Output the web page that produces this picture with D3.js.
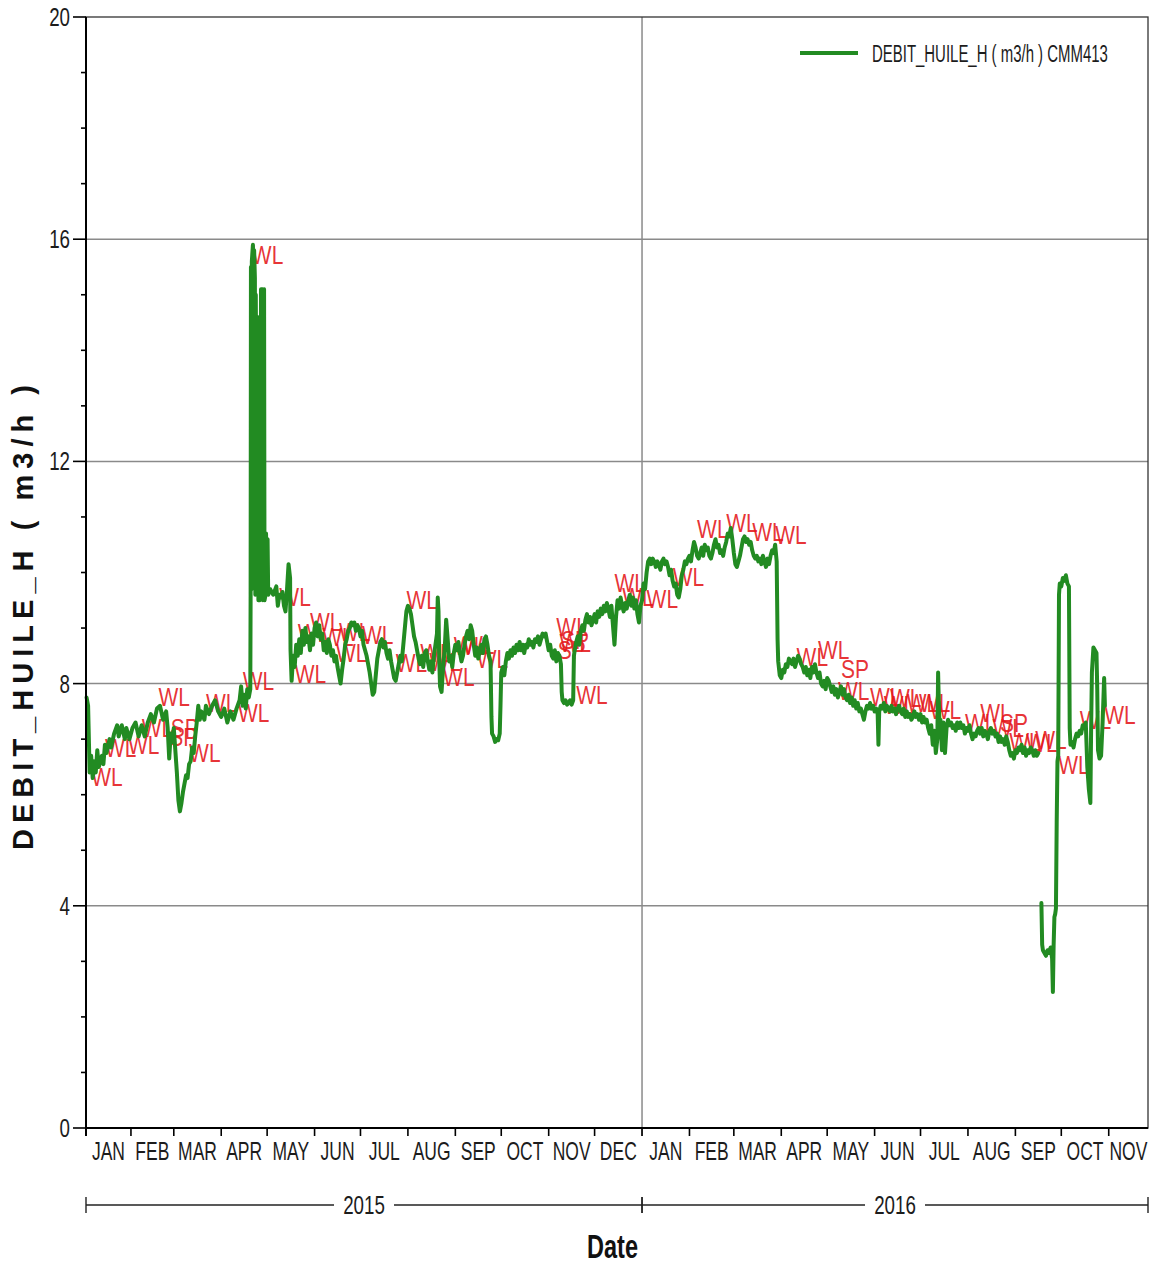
<!DOCTYPE html>
<html><head><meta charset="utf-8">
<script src="https://cdn.jsdelivr.net/npm/d3@7"></script>
<style>
html,body{margin:0;padding:0;background:#fff;}
svg{display:block;}
</style></head><body>
<svg id="chart" width="1152" height="1265"></svg>
<script>
// ---- data ----
const seriesName = "DEBIT_HUILE_H ( m3/h ) CMM413";
const yTitle = "DEBIT_HUILE_H ( m3/h )";
const xTitle = "Date";
const monthNames = ["JAN","FEB","MAR","APR","MAY","JUN","JUL","AUG","SEP","OCT","NOV","DEC"];
const yearLabels = ["2015","2016"];
const yTicks = [0,4,8,12,16,20];
const dateRange = ["2015-01-02T15","2016-11-26T16"];

// daily oil flow (m3/h); null marks missing readings
const flow = [
["2015-01-03",7.75],["2015-01-04",7.6],["2015-01-05",6.4],["2015-01-06",6.7],["2015-01-07",6.3],["2015-01-08",6.6],
["2015-01-09",6.4],["2015-01-10",6.8],["2015-01-11",6.5],["2015-01-13",6.7],["2015-01-14",6.55],["2015-01-15",6.9],
["2015-01-16",6.75],["2015-01-18",7.0],["2015-01-19",6.85],["2015-01-21",7.1],["2015-01-23",7.25],["2015-01-24",7.05],
["2015-01-26",7.25],["2015-01-28",7.0],["2015-01-29",7.2],["2015-01-31",7.0],["2015-02-02",7.2],["2015-02-04",7.3],
["2015-02-06",7.05],["2015-02-08",7.25],["2015-02-10",7.05],["2015-02-12",7.3],["2015-02-14",7.45],["2015-02-16",7.3],
["2015-02-18",7.55],["2015-02-20",7.6],["2015-02-22",7.35],["2015-02-24",7.5],["2015-02-25",7.2],["2015-02-26",6.65],
["2015-02-27",7.1],["2015-02-28",6.95],["2015-03-01",7.2],["2015-03-02",6.8],["2015-03-03",6.4],["2015-03-04",5.9],
["2015-03-05",5.7],["2015-03-06",5.85],["2015-03-07",6.05],["2015-03-08",6.2],["2015-03-09",6.35],["2015-03-10",6.3],
["2015-03-11",6.55],["2015-03-12",6.6],["2015-03-13",6.85],["2015-03-14",6.75],["2015-03-15",7.05],["2015-03-16",7.3],
["2015-03-17",7.6],["2015-03-18",7.35],["2015-03-19",7.5],["2015-03-21",7.35],["2015-03-22",7.6],["2015-03-24",7.45],
["2015-03-26",7.6],["2015-03-28",7.7],["2015-03-30",7.5],["2015-04-01",7.4],["2015-04-03",7.55],["2015-04-05",7.3],
["2015-04-07",7.5],["2015-04-09",7.35],["2015-04-11",7.55],["2015-04-13",7.7],["2015-04-14",7.95],["2015-04-15",7.6],
["2015-04-16",7.8],["2015-04-17",7.55],["2015-04-18",7.9],["2015-04-19",7.75],
["2015-04-20T00",7.9],["2015-04-20T05",9.6],["2015-04-20T10",15.5],["2015-04-20T19",9.7],["2015-04-21T00",15.6],
["2015-04-21T17",15.9],["2015-04-22T05",15.5],["2015-04-22T12",15.8],["2015-04-23T00",15.3],["2015-04-23T07",9.6],
["2015-04-23T14",15.0],["2015-04-24T00",12.6],["2015-04-24T10",12.4],["2015-04-24T17",14.6],["2015-04-25T00",14.5],
["2015-04-25T07",9.5],["2015-04-26T00",9.5],["2015-04-26T19",9.6],["2015-04-27T00",15.1],["2015-04-28T00",15.1],
["2015-04-28T05",9.5],["2015-04-28T12",15.0],["2015-04-29T00",15.1],["2015-04-29T07",9.5],["2015-04-30T00",9.6],
["2015-04-30T07",10.7],["2015-04-30T19",9.7],["2015-05-01T07",10.6],["2015-05-01T17",9.6],
["2015-05-03",9.7],["2015-05-05",9.6],["2015-05-07",9.75],["2015-05-08",9.4],["2015-05-09",9.6],["2015-05-10",9.55],
["2015-05-11",9.65],["2015-05-12",9.4],["2015-05-13",9.3],["2015-05-14",9.7],["2015-05-15",10.15],["2015-05-16T00",9.9],
["2015-05-16T07",8.6],["2015-05-17",8.05],["2015-05-18",8.5],["2015-05-19",8.3],["2015-05-20",8.7],["2015-05-21",8.5],
["2015-05-22",8.8],["2015-05-23",8.55],["2015-05-24",8.95],["2015-05-25",8.7],["2015-05-26",9.0],["2015-05-27",8.75],
["2015-05-28",8.85],["2015-05-29",8.6],["2015-05-30",8.9],["2015-05-31",8.7],["2015-06-01",9.0],["2015-06-02",9.1],
["2015-06-03",8.85],["2015-06-04",9.05],["2015-06-05",8.8],["2015-06-06",8.9],["2015-06-07",8.6],["2015-06-08",8.75],
["2015-06-09",8.55],["2015-06-10",8.8],["2015-06-11",8.7],["2015-06-12",8.5],["2015-06-13",8.6],["2015-06-14",8.4],
["2015-06-15",8.5],["2015-06-16",8.3],["2015-06-17",8.15],["2015-06-18",8.0],["2015-06-19",8.25],["2015-06-20",8.45],
["2015-06-21",8.7],["2015-06-22",8.8],["2015-06-23",8.95],["2015-06-24",9.0],["2015-06-25",9.1],["2015-06-26",9.05],
["2015-06-27",9.1],["2015-06-28",8.95],["2015-06-29",9.05],["2015-06-30",9.0],["2015-07-01",8.85],["2015-07-02",8.95],
["2015-07-03",8.7],["2015-07-04",8.6],["2015-07-05",8.5],["2015-07-06",8.35],["2015-07-07",8.2],["2015-07-08",8.0],
["2015-07-09",7.8],["2015-07-10",7.85],["2015-07-11",8.15],["2015-07-12",8.45],["2015-07-13",8.6],["2015-07-14",8.75],
["2015-07-15",8.8],["2015-07-16",8.65],["2015-07-17",8.75],["2015-07-18",8.55],["2015-07-19",8.45],["2015-07-20",8.6],
["2015-07-21",8.4],["2015-07-22",8.25],["2015-07-23",8.1],["2015-07-24",8.05],["2015-07-25",8.2],["2015-07-26",8.35],
["2015-07-27",8.5],["2015-07-28",8.4],["2015-07-29",8.7],["2015-07-30",9.0],["2015-07-31",9.3],["2015-08-01",9.4],
["2015-08-02",9.35],["2015-08-03",9.25],["2015-08-04",9.05],["2015-08-05",8.85],["2015-08-06",8.75],["2015-08-07",8.6],
["2015-08-08",8.45],["2015-08-09",8.35],["2015-08-10",8.5],["2015-08-11",8.3],["2015-08-12",8.55],["2015-08-13",8.6],
["2015-08-14",8.4],["2015-08-15",8.25],["2015-08-16",8.4],["2015-08-17",8.2],["2015-08-18",8.5],["2015-08-19",8.7],
["2015-08-20T00",8.9],["2015-08-20T12",9.55],["2015-08-21T00",9.3],["2015-08-21T12",8.4],["2015-08-22",7.95],
["2015-08-23",7.85],["2015-08-24",8.3],["2015-08-25",8.6],["2015-08-26",9.15],["2015-08-27",8.8],["2015-08-28",8.4],
["2015-08-29",8.5],["2015-08-30",8.3],["2015-08-31",8.55],["2015-09-01",8.7],["2015-09-02",8.6],["2015-09-03",8.75],
["2015-09-04",8.55],["2015-09-05",8.4],["2015-09-06",8.5],["2015-09-07",8.7],["2015-09-08",8.85],["2015-09-09",8.95],
["2015-09-10",8.8],["2015-09-11",9.05],["2015-09-12",8.95],["2015-09-13",8.7],["2015-09-14",8.5],["2015-09-15",8.65],
["2015-09-16",8.45],["2015-09-17",8.6],["2015-09-18",8.7],["2015-09-19",8.55],["2015-09-20",8.8],["2015-09-21",8.85],
["2015-09-22",8.7],["2015-09-23",8.5],["2015-09-24T00",8.4],["2015-09-24T14",7.4],["2015-09-25",7.1],["2015-09-26",7.05],
["2015-09-27",6.95],["2015-09-28",7.0],["2015-09-29",6.98],["2015-09-30T00",7.1],["2015-09-30T12",7.6],["2015-10-01",8.2],
["2015-10-02",8.3],["2015-10-03",8.15],["2015-10-04",8.4],["2015-10-05",8.55],["2015-10-06",8.45],["2015-10-07",8.6],
["2015-10-08",8.5],["2015-10-09",8.65],["2015-10-10",8.55],["2015-10-11",8.7],["2015-10-12",8.6],["2015-10-13",8.75],
["2015-10-14",8.6],["2015-10-15",8.7],["2015-10-16",8.55],["2015-10-17",8.7],["2015-10-18",8.65],["2015-10-19",8.8],
["2015-10-20",8.7],["2015-10-21",8.75],["2015-10-22",8.65],["2015-10-23",8.8],["2015-10-24",8.75],["2015-10-25",8.85],
["2015-10-26",8.7],["2015-10-27",8.8],["2015-10-28",8.9],["2015-10-29",8.85],["2015-10-30",8.9],["2015-10-31",8.75],
["2015-11-01",8.6],["2015-11-02",8.7],["2015-11-03",8.5],["2015-11-04",8.45],["2015-11-05",8.6],["2015-11-06",8.4],
["2015-11-07",8.55],["2015-11-08",8.5],["2015-11-09T00",8.35],["2015-11-09T12",7.85],["2015-11-10",7.7],["2015-11-11",7.65],
["2015-11-12",7.7],["2015-11-13",7.62],["2015-11-14",7.65],["2015-11-15",7.7],["2015-11-16",7.62],["2015-11-17T00",7.7],
["2015-11-17T12",8.5],["2015-11-18",8.6],["2015-11-19",8.75],["2015-11-20",8.85],["2015-11-21",8.7],["2015-11-22",8.95],
["2015-11-23",9.05],["2015-11-24",8.95],["2015-11-25",9.15],["2015-11-26",9.25],["2015-11-27",9.1],["2015-11-28",9.2],
["2015-11-29",9.05],["2015-11-30",9.15],["2015-12-01",9.25],["2015-12-02",9.1],["2015-12-03",9.3],["2015-12-04",9.2],
["2015-12-05",9.35],["2015-12-06",9.25],["2015-12-07",9.4],["2015-12-08",9.3],["2015-12-09",9.45],["2015-12-10",9.35],
["2015-12-11",9.2],["2015-12-12",9.4],["2015-12-13",9.05],["2015-12-14",8.7],["2015-12-15",9.2],["2015-12-16",9.5],
["2015-12-17",9.35],["2015-12-18",9.55],["2015-12-19",9.4],["2015-12-20",9.3],["2015-12-21",9.45],["2015-12-22",9.35],
["2015-12-23",9.5],["2015-12-24",9.6],["2015-12-25",9.4],["2015-12-26",9.55],["2015-12-27",9.35],["2015-12-28",9.5],
["2015-12-29",9.25],["2015-12-30",9.1],["2015-12-31",9.4],
["2016-01-01",9.5],["2016-01-02",9.8],["2016-01-03",9.7],["2016-01-04",10.0],["2016-01-05",10.2],["2016-01-06",10.25],
["2016-01-07",10.15],["2016-01-08",10.25],["2016-01-09",10.2],["2016-01-10",10.1],["2016-01-11",10.2],["2016-01-12",10.15],
["2016-01-13",10.05],["2016-01-14",10.2],["2016-01-15",10.25],["2016-01-16",10.15],["2016-01-17",10.2],["2016-01-18",10.1],
["2016-01-19",9.95],["2016-01-20",10.05],["2016-01-21",9.85],["2016-01-22",9.75],["2016-01-23",9.8],["2016-01-24",9.6],
["2016-01-25",9.55],["2016-01-26",9.7],["2016-01-27",9.95],["2016-01-28",10.05],["2016-01-29",10.2],["2016-01-30",10.15],
["2016-01-31",10.25],["2016-02-01",10.3],["2016-02-02",10.2],["2016-02-03",10.4],["2016-02-04",10.55],["2016-02-05",10.45],
["2016-02-06",10.3],["2016-02-07",10.25],["2016-02-08",10.35],["2016-02-09",10.45],["2016-02-10",10.3],["2016-02-11",10.5],
["2016-02-12",10.4],["2016-02-13",10.45],["2016-02-14",10.3],["2016-02-15",10.25],["2016-02-16",10.35],["2016-02-17",10.5],
["2016-02-18",10.6],["2016-02-19",10.45],["2016-02-20",10.5],["2016-02-21",10.35],["2016-02-22",10.4],["2016-02-23",10.3],
["2016-02-24",10.45],["2016-02-25",10.55],["2016-02-26",10.7],["2016-02-27",10.65],["2016-02-28",10.8],["2016-02-29",10.6],
["2016-03-01",10.35],["2016-03-02",10.15],["2016-03-03",10.1],["2016-03-04",10.2],["2016-03-05",10.3],["2016-03-06",10.45],
["2016-03-07",10.6],["2016-03-08",10.65],["2016-03-09",10.55],["2016-03-10",10.6],["2016-03-11",10.5],["2016-03-12",10.55],
["2016-03-13",10.4],["2016-03-14",10.3],["2016-03-15",10.25],["2016-03-16",10.3],["2016-03-17",10.2],["2016-03-18",10.25],
["2016-03-19",10.15],["2016-03-20",10.3],["2016-03-21",10.2],["2016-03-22",10.1],["2016-03-23",10.25],["2016-03-24",10.15],
["2016-03-25",10.3],["2016-03-26",10.4],["2016-03-27",10.35],["2016-03-28",10.5],["2016-03-29T00",10.2],["2016-03-29T14",8.8],
["2016-03-30",8.4],["2016-03-31",8.15],["2016-04-01",8.1],["2016-04-02",8.25],["2016-04-03",8.2],["2016-04-04",8.35],
["2016-04-05",8.3],["2016-04-06",8.45],["2016-04-07",8.4],["2016-04-08",8.35],["2016-04-09",8.45],["2016-04-10",8.3],
["2016-04-11",8.4],["2016-04-12",8.5],["2016-04-13",8.45],["2016-04-14",8.35],["2016-04-15",8.3],["2016-04-16",8.2],
["2016-04-17",8.3],["2016-04-18",8.15],["2016-04-19",8.25],["2016-04-20",8.1],["2016-04-21",8.3],["2016-04-22",8.2],
["2016-04-23",8.35],["2016-04-24",8.2],["2016-04-25",8.1],["2016-04-26",8.2],["2016-04-27",8.0],["2016-04-28",7.95],
["2016-04-29",8.05],["2016-04-30",7.9],["2016-05-01",8.1],["2016-05-02",8.05],["2016-05-03",7.95],["2016-05-04",7.85],
["2016-05-05",7.95],["2016-05-06",7.8],["2016-05-07",7.9],["2016-05-08",7.75],["2016-05-09",7.85],["2016-05-10",7.95],
["2016-05-11",7.8],["2016-05-12",7.9],["2016-05-13",7.75],["2016-05-14",7.7],["2016-05-15",7.8],["2016-05-16",7.65],
["2016-05-17",7.75],["2016-05-18",7.6],["2016-05-19",7.7],["2016-05-20",7.55],["2016-05-21",7.65],["2016-05-22",7.5],
["2016-05-23",7.55],["2016-05-24",7.45],["2016-05-25",7.35],["2016-05-26",7.5],["2016-05-27",7.6],["2016-05-28",7.55],
["2016-05-29",7.65],["2016-05-30",7.55],["2016-05-31",7.6],["2016-06-01",7.5],["2016-06-02",7.55],["2016-06-03T00",7.45],
["2016-06-03T12",6.9],["2016-06-04",7.5],["2016-06-05",7.6],["2016-06-06",7.55],["2016-06-07",7.65],["2016-06-08",7.5],
["2016-06-09",7.6],["2016-06-10",7.55],["2016-06-11",7.5],["2016-06-12",7.6],["2016-06-13",7.5],["2016-06-14",7.55],
["2016-06-15",7.45],["2016-06-16",7.55],["2016-06-17",7.6],["2016-06-18",7.5],["2016-06-19",7.45],["2016-06-20",7.55],
["2016-06-21",7.4],["2016-06-22",7.5],["2016-06-23",7.4],["2016-06-24",7.45],["2016-06-25",7.35],["2016-06-26",7.4],
["2016-06-27",7.5],["2016-06-28",7.4],["2016-06-29",7.45],["2016-06-30",7.35],["2016-07-01",7.45],["2016-07-02",7.3],
["2016-07-03",7.4],["2016-07-04",7.3],["2016-07-05",7.35],["2016-07-06",7.2],["2016-07-07",7.1],["2016-07-08",7.25],
["2016-07-09",6.9],["2016-07-10",7.15],["2016-07-11",6.75],["2016-07-12T00",7.0],["2016-07-12T12",8.2],["2016-07-13T00",7.6],
["2016-07-13T12",7.2],["2016-07-14",7.35],["2016-07-15",6.8],["2016-07-16",7.3],["2016-07-17",6.75],["2016-07-18",7.2],
["2016-07-19",7.35],["2016-07-20",7.25],["2016-07-21",7.3],["2016-07-22",7.2],["2016-07-23",7.25],["2016-07-24",7.15],
["2016-07-25",7.3],["2016-07-26",7.2],["2016-07-27",7.3],["2016-07-28",7.2],["2016-07-29",7.25],["2016-07-30",7.1],
["2016-07-31",7.2],["2016-08-01",7.15],["2016-08-02",7.25],["2016-08-03",7.1],["2016-08-04",7.0],["2016-08-05",7.1],
["2016-08-06",7.05],["2016-08-07",7.15],["2016-08-08",7.2],["2016-08-09",7.1],["2016-08-10",7.2],["2016-08-11",7.05],
["2016-08-12",7.15],["2016-08-13",7.1],["2016-08-14",7.0],["2016-08-15",7.15],["2016-08-16",7.2],["2016-08-17",7.1],
["2016-08-18",7.15],["2016-08-19",7.05],["2016-08-20",7.1],["2016-08-21",6.95],["2016-08-22",7.05],["2016-08-23",6.95],
["2016-08-24",7.0],["2016-08-25",6.9],["2016-08-26",7.05],["2016-08-27",6.95],["2016-08-28",6.8],["2016-08-29",6.7],
["2016-08-30",6.75],["2016-08-31",6.65],["2016-09-01",6.8],["2016-09-02",6.75],["2016-09-03",6.85],["2016-09-04",6.8],
["2016-09-05",6.9],["2016-09-06",6.75],["2016-09-07",6.85],["2016-09-08",6.7],["2016-09-09",6.8],["2016-09-10",6.75],
["2016-09-11",6.85],["2016-09-12",6.8],["2016-09-13",6.7],["2016-09-14",6.8],["2016-09-15",6.7],["2016-09-16",6.75],
["2016-09-17",null],
["2016-09-18",4.05],["2016-09-18T12",3.3],["2016-09-19",3.2],["2016-09-20",3.15],["2016-09-21",3.1],["2016-09-22",3.2],
["2016-09-23",3.15],["2016-09-24",3.25],["2016-09-25T00",3.05],["2016-09-25T12",2.45],["2016-09-26T00",3.3],
["2016-09-26T12",3.8],["2016-09-27T00",3.85],["2016-09-27T12",3.95],["2016-09-28T00",5.5],["2016-09-28T12",6.6],
["2016-09-29T00",6.7],["2016-09-29T12",9.6],["2016-09-30",9.8],["2016-10-01",9.75],["2016-10-02",9.9],["2016-10-03",9.85],
["2016-10-04",9.95],["2016-10-05",9.8],["2016-10-06T00",9.75],["2016-10-06T12",7.2],["2016-10-07",6.9],["2016-10-08",6.95],
["2016-10-09",6.85],["2016-10-10",7.0],["2016-10-11",7.1],["2016-10-12",7.05],["2016-10-13",7.15],["2016-10-14",7.1],
["2016-10-15",7.25],["2016-10-16",7.2],["2016-10-17",7.3],["2016-10-18",6.5],["2016-10-19",6.1],["2016-10-20T00",5.85],
["2016-10-20T12",7.2],["2016-10-21",8.2],["2016-10-22",8.65],["2016-10-23",8.6],["2016-10-24T00",8.55],["2016-10-24T12",7.9],
["2016-10-25",6.8],["2016-10-26",6.65],["2016-10-27",6.7],["2016-10-28",7.3],["2016-10-29T00",8.1],["2016-10-29T12",7.6]
];

// well-event annotations: date, flow at the event, code
const events = [
["2015-04-21",15.72,"WL"],["2015-01-06",6.32,"WL"],["2015-01-15",6.84,"WL"],["2015-01-30",6.89,"WL"],
["2015-02-08",7.2,"WL"],["2015-02-19",7.76,"WL"],["2015-02-27",7.2,"SP"],["2015-02-26",7.04,"SP"],
["2015-03-11",6.75,"WL"],["2015-03-22",7.65,"WL"],["2015-04-15",8.05,"WL"],["2015-04-12",7.47,"WL"],
["2015-05-09",9.56,"WL"],["2015-05-19",8.18,"WL"],["2015-05-21",8.91,"WL"],["2015-05-29",9.11,"WL"],
["2015-06-06",8.84,"WL"],["2015-06-15",8.55,"WL"],["2015-06-17",8.93,"WL"],["2015-07-02",8.87,"WL"],
["2015-07-31",9.5,"WL"],["2015-07-24",8.37,"WL"],["2015-08-09",8.55,"WL"],["2015-08-15",8.39,"WL"],
["2015-08-24",8.12,"WL"],["2015-08-31",8.68,"WL"],["2015-09-06",8.7,"WL"],["2015-09-15",8.44,"WL"],
["2015-11-06",9.02,"WL"],["2015-11-07",8.6,"SP"],["2015-11-08",8.73,"WL"],["2015-11-09",8.78,"SP"],
["2015-11-19",7.8,"WL"],["2015-12-14",9.81,"WL"],["2015-12-19",9.56,"WL"],
["2016-01-04",9.52,"WL"],["2016-01-21",9.92,"WL"],["2016-02-06",10.78,"WL"],["2016-02-25",10.89,"WL"],
["2016-03-13",10.73,"WL"],["2016-03-28",10.68,"WL"],["2016-04-11",8.48,"WL"],["2016-04-25",8.6,"WL"],
["2016-05-10",8.26,"SP"],["2016-05-08",7.87,"WL"],["2016-05-29",7.76,"WL"],["2016-06-07",7.61,"WL"],
["2016-06-11",7.74,"WL"],["2016-06-22",7.65,"WL"],["2016-06-30",7.65,"WL"],["2016-07-07",7.52,"WL"],
["2016-07-30",7.29,"WL"],["2016-08-09",7.47,"WL"],["2016-08-17",7.2,"WL"],["2016-08-22",7.29,"SP"],
["2016-08-28",6.95,"WL"],["2016-09-08",6.93,"WL"],["2016-09-14",6.98,"WL"],["2016-09-29",6.53,"WL"],
["2016-10-13",7.34,"WL"],["2016-10-29",7.43,"WL"]
];

// ---- setup ----
const parseDay = d3.timeParse("%Y-%m-%d");
const parseHour = d3.timeParse("%Y-%m-%dT%H");
const parse = s => s.includes("T") ? parseHour(s) : parseDay(s);

const NARROW = "'Liberation Sans Narrow','Arial Narrow','Liberation Sans',Arial,sans-serif";
const WIDE = "'Liberation Sans',Arial,sans-serif";
const INK = "#1c1c1c";
const GREEN = "#228b22";
const RED = "#e4191c";

const plot = {left: 86, right: 1148, top: 17, bottom: 1128};
const svg = d3.select("#chart");
svg.append("rect").attr("width", 1152).attr("height", 1265).attr("fill", "#fff");

const x = d3.scaleTime().domain(dateRange.map(parse)).range([plot.left, plot.right]);
const y = d3.scaleLinear().domain([0, 20]).range([plot.bottom, plot.top]);

function txt(g, px, py, s, o) {
  return g.append("text")
    .attr("transform", `translate(${px},${py}) scale(${o.sx || 1},1)`)
    .attr("text-anchor", o.anchor || "start")
    .attr("font-family", o.family || NARROW)
    .attr("font-size", o.size)
    .attr("font-weight", o.weight || "normal")
    .attr("fill", o.fill || INK)
    .text(s);
}
// text squeezed horizontally to a target width
function fitTxt(g, px, py, s, width, o) {
  const t = txt(g, 0, 0, s, o);
  const w = t.node().getComputedTextLength();
  t.attr("transform", `translate(${px},${py}) scale(${width / w},1)`);
  return t;
}

// ---- grid ----
const grid = svg.append("g");
grid.selectAll("line.h").data(yTicks.filter(v => v > 0 && v < 20)).join("line")
  .attr("x1", plot.left).attr("x2", plot.right)
  .attr("y1", d => y(d)).attr("y2", d => y(d))
  .attr("stroke", "#8a8a8a").attr("stroke-width", 1.5);
const yearStarts = d3.timeYear.range(...x.domain()).filter(d => +d > +x.domain()[0]);
grid.selectAll("line.v").data(yearStarts).join("line")
  .attr("x1", d => x(d)).attr("x2", d => x(d))
  .attr("y1", plot.top).attr("y2", plot.bottom + 8)
  .attr("stroke", "#8a8a8a").attr("stroke-width", 1.5);

// ---- event labels (beneath the flow line) ----
const ev = svg.append("g").attr("fill-opacity", 0.9);
events.forEach(([d, v, code]) => {
  txt(ev, x(parse(d)), y(v) + 9, code, {size: 25, sx: 0.84, fill: RED});
});

// ---- flow line ----
const pts = flow.map(([d, v]) => ({date: parse(d), v}));
const line = d3.line().defined(d => d.v != null).x(d => x(d.date)).y(d => y(d.v));
svg.append("path").datum(pts)
  .attr("d", line).attr("fill", "none")
  .attr("stroke", GREEN).attr("stroke-width", 4)
  .attr("stroke-linejoin", "round").attr("stroke-linecap", "round");

// ---- frame and axes ----
const ax = svg.append("g");
ax.append("rect").attr("x", plot.left).attr("y", plot.top)
  .attr("width", plot.right - plot.left).attr("height", plot.bottom - plot.top)
  .attr("fill", "none").attr("stroke", "#333").attr("stroke-width", 1.3);
ax.append("line").attr("x1", plot.left).attr("x2", plot.left).attr("y1", plot.top).attr("y2", plot.bottom + 8)
  .attr("stroke", "#000").attr("stroke-width", 2);
ax.append("line").attr("x1", plot.left).attr("x2", plot.right).attr("y1", plot.bottom).attr("y2", plot.bottom)
  .attr("stroke", "#000").attr("stroke-width", 2);

// y ticks: minor each unit, major with labels
ax.selectAll("line.ym").data(d3.range(0, 21)).join("line")
  .attr("x1", d => yTicks.includes(d) ? plot.left - 13 : plot.left - 5).attr("x2", plot.left)
  .attr("y1", d => y(d)).attr("y2", d => y(d))
  .attr("stroke", "#000").attr("stroke-width", 1.6);
yTicks.forEach(v => txt(ax, plot.left - 16, y(v) + 9, String(v), {size: 25, sx: 0.75, anchor: "end"}));

// month ticks and labels
const months = d3.timeMonth.range(d3.timeMonth.floor(x.domain()[0]), x.domain()[1]);
ax.selectAll("line.mt").data(months.filter(d => +d > +x.domain()[0])).join("line")
  .attr("x1", d => x(d)).attr("x2", d => x(d))
  .attr("y1", plot.bottom).attr("y2", plot.bottom + 8)
  .attr("stroke", "#000").attr("stroke-width", 1.6);
months.forEach(m => {
  const a = Math.max(x(m), plot.left);
  const b = Math.min(x(d3.timeMonth.offset(m, 1)), plot.right);
  txt(ax, (a + b) / 2, 1160, monthNames[m.getMonth()], {size: 25, sx: 0.70, anchor: "middle"});
});

// year brackets
const yb = 1205;
yearLabels.forEach(yr => {
  const y0 = parseDay(yr + "-01-01"), y1 = parseDay((+yr + 1) + "-01-01");
  const a = Math.max(x(y0), plot.left), b = Math.min(x(y1), plot.right);
  ax.append("line").attr("x1", a).attr("x2", b).attr("y1", yb).attr("y2", yb)
    .attr("stroke", "#222").attr("stroke-width", 1.4);
  [a, b].forEach(p => ax.append("line").attr("x1", p).attr("x2", p).attr("y1", yb - 8).attr("y2", yb + 8)
    .attr("stroke", "#222").attr("stroke-width", 1.4));
  const cx = (a + b) / 2;
  ax.append("rect").attr("x", cx - 30).attr("y", yb - 12).attr("width", 60).attr("height", 24).attr("fill", "#fff");
  txt(ax, cx, yb + 9, yr, {size: 25, sx: 0.75, anchor: "middle"});
});

// titles
ax.append("text")
  .attr("transform", "translate(33,850) rotate(-90)")
  .attr("font-family", WIDE).attr("font-weight", "bold").attr("font-size", 29)
  .attr("fill", "#111")
  .attr("textLength", 465).attr("lengthAdjust", "spacing")
  .text(yTitle);
fitTxt(ax, 587, 1258, xTitle, 51, {size: 34, weight: "bold", fill: "#111"});

// legend
const lg = svg.append("g");
lg.append("line").attr("x1", 800).attr("x2", 858).attr("y1", 53).attr("y2", 53)
  .attr("stroke", GREEN).attr("stroke-width", 4);
fitTxt(lg, 872, 62, seriesName, 236, {size: 24});
</script>
</body></html>
